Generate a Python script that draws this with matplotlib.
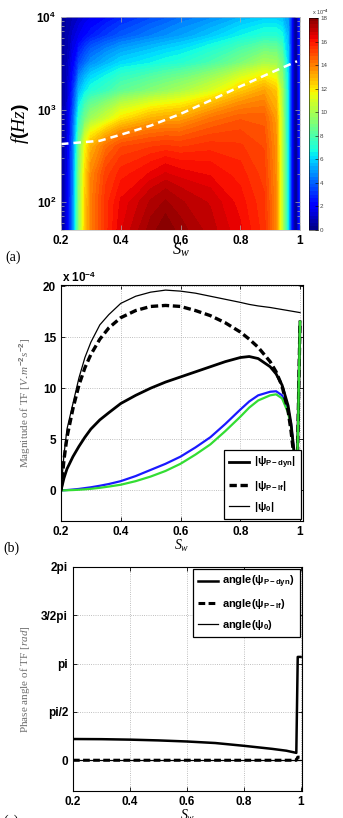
import numpy as np
import matplotlib
matplotlib.use("Agg")
import matplotlib.pyplot as plt

plt.rcParams['font.family'] = 'Liberation Sans'
plt.rcParams['font.weight'] = 'bold'
plt.rcParams['mathtext.fontset'] = 'custom'
plt.rcParams['mathtext.rm'] = 'Liberation Sans:bold'
plt.rcParams['mathtext.bf'] = 'Liberation Sans:bold'
plt.rcParams['mathtext.sf'] = 'Liberation Sans:bold'
plt.rcParams['mathtext.it'] = 'Liberation Serif:italic:normal'

# ---- panel (a): magnitude map, values x 1e-4, one row per Sw ----
sw_map = [0.20, 0.22, 0.24, 0.26, 0.28, 0.30, 0.35, 0.40, 0.50, 0.55, 0.60,
          0.70, 0.80, 0.88, 0.92, 0.94, 0.96, 0.97, 0.98, 0.99, 1.00]
f_map = [50, 100, 200, 400, 800, 1600, 3200, 6300, 10000]
mag_map = [
    [0.3, 0.3, 0.3, 0.3, 0.3, 0.3, 0.3, 0.3, 0.3],
    [1.5, 1.5, 1.5, 1.4, 1.3, 1.1, 0.9, 0.7, 0.6],
    [4.5, 4.5, 4.4, 4.2, 3.8, 3.0, 2.0, 1.3, 0.9],
    [9.5, 9.4, 9.2, 8.8, 7.2, 5.5, 3.5, 1.8, 1.2],
    [12.5, 12.4, 12.2, 11.6, 8.8, 6.4, 4.2, 2.3, 1.5],
    [14.0, 14.0, 13.8, 13.0, 9.8, 7.0, 4.8, 2.7, 1.8],
    [15.5, 15.5, 15.2, 14.3, 10.8, 7.6, 5.5, 3.3, 2.3],
    [16.5, 16.3, 15.8, 15.0, 12.0, 8.4, 6.1, 3.8, 2.8],
    [17.6, 17.2, 16.3, 15.3, 13.0, 9.2, 6.6, 4.5, 3.5],
    [18.0, 17.5, 16.6, 15.4, 13.2, 9.6, 6.9, 4.8, 3.8],
    [17.6, 17.2, 16.4, 15.3, 13.3, 10.0, 7.1, 5.1, 4.2],
    [17.0, 16.8, 16.2, 15.5, 14.2, 11.0, 7.9, 5.8, 4.7],
    [16.3, 16.1, 15.8, 15.4, 14.7, 12.5, 9.0, 6.6, 5.4],
    [15.5, 15.4, 15.2, 15.0, 14.6, 13.3, 10.0, 7.1, 5.8],
    [13.8, 13.8, 13.7, 13.6, 13.4, 12.6, 9.8, 7.1, 5.8],
    [10.5, 10.5, 10.5, 10.4, 10.3, 10.0, 8.8, 6.8, 5.6],
    [6.5, 6.5, 6.5, 6.5, 6.4, 6.3, 6.0, 5.5, 5.0],
    [3.0, 3.0, 3.0, 3.0, 3.0, 3.0, 3.0, 3.0, 3.0],
    [0.6, 0.6, 0.6, 0.6, 0.6, 0.6, 0.6, 0.6, 0.6],
    [0.5, 0.5, 0.5, 0.5, 0.5, 0.5, 0.5, 0.5, 0.5],
    [3.0, 3.0, 3.0, 3.0, 3.0, 3.0, 3.0, 3.0, 3.0],
]
# white dashed cut-off frequency
sw_cut = [0.2, 0.33, 0.4, 0.5, 0.6, 0.7, 0.8, 0.9, 0.99]
f_cut = [424, 460, 535, 670, 898, 1253, 1778, 2480, 3325]

# ---- panel (b): magnitudes, x 1e-4 ----
sw_line = [0.2, 0.21, 0.22, 0.24, 0.26, 0.28, 0.3, 0.33, 0.36, 0.4, 0.45, 0.5,
           0.55, 0.6, 0.65, 0.7, 0.75, 0.8, 0.83, 0.86, 0.9, 0.92, 0.94, 0.96,
           0.97, 0.98, 0.99, 1.0]
mag_dyn = [0, 1.2, 2.1, 3.3, 4.3, 5.2, 6.0, 6.9, 7.6, 8.5, 9.3, 10.0, 10.6,
           11.1, 11.6, 12.1, 12.6, 13.0, 13.1, 12.9, 12.1, 11.4, 10.3, 8.3,
           6.5, 3.8, 1.0, 16.5]
mag_lf = [0, 3.0, 5.2, 8.0, 10.3, 12.0, 13.3, 14.8, 15.9, 16.9, 17.6, 18.0,
          18.1, 18.0, 17.6, 17.1, 16.4, 15.5, 14.8, 14.0, 12.6, 11.6, 10.2,
          7.8, 5.8, 3.2, 1.0, 16.5]
mag_0 = [0, 3.5, 6.0, 8.5, 11.0, 13.0, 14.5, 16.2, 17.2, 18.3, 19.0, 19.4,
         19.6, 19.5, 19.3, 19.0, 18.7, 18.4, 18.2, 18.05, 17.9, 17.8, 17.7,
         17.6, 17.55, 17.5, 17.45, 17.4]
mag_blue = [0, 0.01, 0.03, 0.08, 0.14, 0.22, 0.3, 0.45, 0.62, 0.9, 1.4, 2.0,
            2.6, 3.3, 4.2, 5.2, 6.5, 7.9, 8.7, 9.3, 9.65, 9.7, 9.3, 7.9, 6.5,
            3.8, 1.0, 1.0]
mag_green = [0, 0, 0.01, 0.03, 0.06, 0.1, 0.15, 0.25, 0.37, 0.55, 0.9, 1.35,
             1.9, 2.6, 3.5, 4.5, 5.8, 7.2, 8.1, 8.8, 9.3, 9.4, 9.0, 7.6, 6.2,
             3.6, 1.0, 16.5]

# ---- panel (c): phase angles, rad ----
sw_phase = [0.2, 0.3, 0.4, 0.5, 0.6, 0.7, 0.8, 0.9, 0.95, 0.985, 0.99, 1.0]
phase_dyn = [0.69, 0.685, 0.67, 0.645, 0.61, 0.56, 0.47, 0.37, 0.31, 0.24, 3.36, 3.36]
phase_lf = [0, 0, 0, 0, 0, 0, 0, 0, 0, 0, 0.1, 0.1]
phase_0 = [0, 0, 0, 0, 0, 0, 0, 0, 0, 0, 0, 0]

W, H = 343, 818
fig = plt.figure(figsize=(W / 100, H / 100), dpi=100)


def box(l, t, r, b):
    return [l / W, 1 - b / H, (r - l) / W, (b - t) / H]


serif = 'Liberation Serif'
gray = '#6e6e6e'
tick_fs = 8.5

# (a)
ax1 = fig.add_axes(box(61, 17, 300, 230))
mesh = ax1.contourf(sw_map, f_map, np.array(mag_map).T,
                    levels=np.linspace(0, 18.05, 61), cmap='jet')
ax1.plot(sw_cut, f_cut, color='white', ls=(0, (3, 2)), lw=1.8)
ax1.set_yscale('log')
ax1.set_xlim(0.2, 1.0)
ax1.set_ylim(50, 10000)
ax1.set_xticks([0.2, 0.4, 0.6, 0.8, 1.0])
ax1.set_xticklabels(['0.2', '0.4', '0.6', '0.8', '1'])
ax1.tick_params(which='both', direction='in', top=True, right=True,
                labelsize=tick_fs, length=2.5, width=0.5, colors='#aaaaaa',
                labelcolor='black')
ax1.tick_params(which='major', length=3.5)
for s in ax1.spines.values():
    s.set_linewidth(0.5)
    s.set_color('#bbbbbb')
ax1.set_xlabel('$S_w$', fontsize=12, labelpad=-4)
ax1.set_ylabel('$f(Hz)$', fontsize=14, labelpad=4)

cax = fig.add_axes(box(309, 18, 318, 230))
cb = fig.colorbar(mesh, cax=cax, ticks=range(0, 19, 2))
cb.outline.set_linewidth(0.4)
cax.set_ylim(0, 18)
cax.tick_params(labelsize=4.5, length=2, width=0.4, direction='in',
                labelcolor='#444444', pad=1.5)
for lab in cax.get_yticklabels():
    lab.set_fontweight('normal')
cax.text(0.3, 1.005, r'x 10$^{-4}$', transform=cax.transAxes, fontsize=4,
         fontweight='normal', color='#444444', va='bottom')
fig.text(5 / W, 1 - 257 / H, '(a)', family=serif, fontweight='normal',
         fontsize=10, va='center')

# (b)
ax2 = fig.add_axes(box(61, 285, 303, 521))
ax2.plot(sw_line, mag_blue, color='#1a1aff', lw=1.6)
ax2.plot(sw_line, mag_green, color='#33dd33', lw=1.6)
ax2.plot(sw_line, mag_dyn, color='black', lw=2.0, label=r'|ψ$_{\mathrm{P-dyn}}$|')
ax2.plot(sw_line, mag_lf, color='black', lw=2.4, ls=(0, (2.2, 1.1)),
         label=r'|ψ$_{\mathrm{P-lf}}$|')
ax2.plot(sw_line, mag_0, color='black', lw=0.9, label=r'|ψ$_{\mathrm{0}}$|')
ax2.plot(sw_line[-2:], mag_green[-2:], color='#33dd33', lw=1.6)
ax2.set_xlim(0.2, 1.01)
ax2.set_ylim(-3, 20.1)
ax2.set_xticks([0.2, 0.4, 0.6, 0.8, 1.0])
ax2.set_xticklabels(['0.2', '0.4', '0.6', '0.8', '1'])
ax2.set_yticks([0, 5, 10, 15, 20])
ax2.grid(True, ls=':', color='#aaaaaa', lw=0.6)
ax2.tick_params(direction='in', top=True, right=True, labelsize=tick_fs,
                length=3, width=0.6)
ax2.text(0.005, 1.0, r'x 10$^{-4}$', transform=ax2.transAxes, fontsize=8.5,
         va='bottom', ha='left')
leg = ax2.legend(loc='lower right', fontsize=8, frameon=True, fancybox=False,
                 edgecolor='black', borderaxespad=0.2, handlelength=1.8,
                 labelspacing=0.65, borderpad=0.45, handletextpad=0.4)
leg.get_frame().set_linewidth(0.9)
leg.get_frame().set_alpha(1)
ax2.set_xlabel('$S_w$', fontsize=10, labelpad=0)
ax2.set_ylabel('Magnitude of TF [$V.m^{-2}s^{-2}$]', family=serif,
               fontweight='normal', fontsize=8, color=gray, labelpad=7)
fig.text(3 / W, 1 - 548 / H, '(b)', family=serif, fontweight='normal',
         fontsize=10, va='center')

# (c)
ax3 = fig.add_axes(box(73, 567, 302, 791))
ax3.plot(sw_phase, phase_dyn, color='black', lw=1.8,
         label=r'angle(ψ$_{\mathrm{P-dyn}}$)')
ax3.plot(sw_phase, phase_lf, color='black', lw=2.2, ls=(0, (2.2, 1.1)),
         label=r'angle(ψ$_{\mathrm{P-lf}}$)')
ax3.plot(sw_phase, phase_0, color='black', lw=0.9,
         label=r'angle(ψ$_{\mathrm{0}}$)')
ax3.set_xlim(0.2, 1.005)
ax3.set_ylim(-1.0, 2 * np.pi)
ax3.set_xticks([0.2, 0.4, 0.6, 0.8, 1.0])
ax3.set_xticklabels(['0.2', '0.4', '0.6', '0.8', '1'])
ax3.set_yticks([0, np.pi / 2, np.pi, 1.5 * np.pi, 2 * np.pi])
ax3.set_yticklabels(['0', 'pi/2', 'pi', '3/2pi', '2pi'])
ax3.grid(True, ls=':', color='#aaaaaa', lw=0.6)
ax3.tick_params(direction='in', top=True, right=True, labelsize=tick_fs,
                length=3, width=0.6)
leg3 = ax3.legend(loc='upper right', fontsize=8, frameon=True, fancybox=False,
                  edgecolor='black', borderaxespad=0.2, handlelength=1.8,
                  labelspacing=0.6, borderpad=0.45, handletextpad=0.4)
leg3.get_frame().set_linewidth(0.9)
leg3.get_frame().set_alpha(1)
ax3.set_xlabel('$S_w$', fontsize=10, labelpad=0)
ax3.set_ylabel('Phase angle of TF [$rad$]', family=serif,
               fontweight='normal', fontsize=8, color=gray, labelpad=7)
fig.text(3 / W, 1 - 815 / H, '(c)', family=serif, fontweight='normal',
         fontsize=10, va='top')

fig.savefig('out.png', dpi=100)
